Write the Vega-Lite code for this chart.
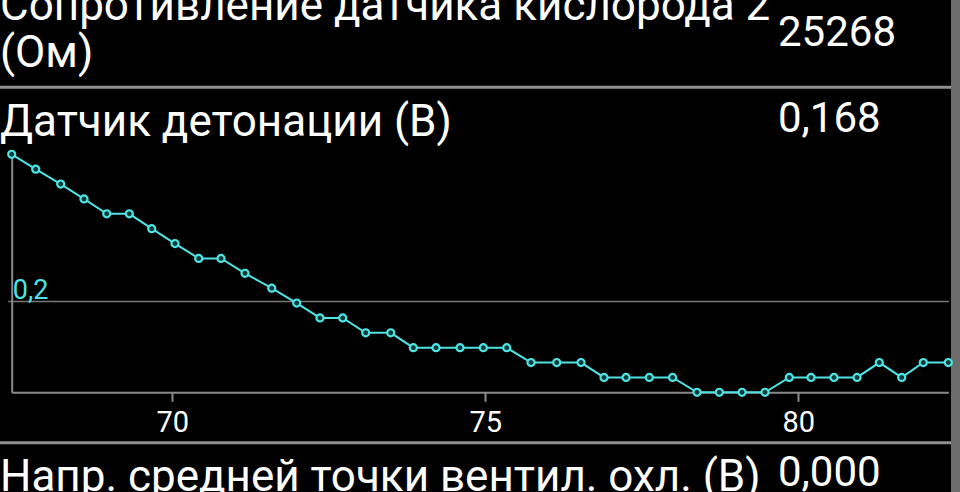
{
  "$schema": "https://vega.github.io/schema/vega-lite/v6.json",
  "width": 951,
  "height": 492,
  "autosize": "none",
  "padding": {"left": 0, "top": 0, "right": 9, "bottom": 0},
  "background": "#6c6c6c",
  "config": {"view": {"fill": "#000000", "stroke": null}},
  "datasets": {
    "rows": [
      {"item": 1, "label": "Сопротивление датчика кислорода 2\n(Ом)", "value": "25268"},
      {"item": 2, "label": "Датчик детонации (В)", "value": "0,168"},
      {"item": 3, "label": "Напр. средней точки вентил. охл. (В)", "value": "0,000"}
    ],
    "series": [
      {"t": 67.434, "v": 0.2768},
      {"t": 67.818, "v": 0.269},
      {"t": 68.217, "v": 0.2612},
      {"t": 68.589, "v": 0.2534},
      {"t": 68.952, "v": 0.2456},
      {"t": 69.313, "v": 0.2456},
      {"t": 69.671, "v": 0.2378},
      {"t": 70.043, "v": 0.23},
      {"t": 70.422, "v": 0.2222},
      {"t": 70.778, "v": 0.2222},
      {"t": 71.161, "v": 0.2144},
      {"t": 71.588, "v": 0.2066},
      {"t": 71.987, "v": 0.1988},
      {"t": 72.359, "v": 0.191},
      {"t": 72.722, "v": 0.191},
      {"t": 73.089, "v": 0.1832},
      {"t": 73.489, "v": 0.1832},
      {"t": 73.85, "v": 0.1754},
      {"t": 74.212, "v": 0.1754},
      {"t": 74.596, "v": 0.1754},
      {"t": 74.968, "v": 0.1754},
      {"t": 75.342, "v": 0.1754},
      {"t": 75.73, "v": 0.1676},
      {"t": 76.141, "v": 0.1676},
      {"t": 76.529, "v": 0.1676},
      {"t": 76.896, "v": 0.1598},
      {"t": 77.248, "v": 0.1598},
      {"t": 77.62, "v": 0.1598},
      {"t": 77.992, "v": 0.1598},
      {"t": 78.382, "v": 0.152},
      {"t": 78.738, "v": 0.152},
      {"t": 79.101, "v": 0.152},
      {"t": 79.468, "v": 0.152},
      {"t": 79.856, "v": 0.1598},
      {"t": 80.203, "v": 0.1598},
      {"t": 80.57, "v": 0.1598},
      {"t": 80.938, "v": 0.1598},
      {"t": 81.294, "v": 0.1676},
      {"t": 81.652, "v": 0.1598},
      {"t": 81.997, "v": 0.1676},
      {"t": 82.396, "v": 0.1676}
    ]
  },
  "resolve": {
    "scale": {"x": "independent", "y": "independent"},
    "axis": {"x": "independent", "y": "independent"}
  },
  "layer": [
    {
      "data": {"name": "rows"},
      "mark": {"type": "rule", "color": "#8f8f8f", "strokeWidth": 3},
      "encoding": {
        "y": {"field": "item", "type": "quantitative",
              "scale": {"domain": [1, 2, 3], "range": [87.3, 442.7, 700], "nice": false, "zero": false},
              "axis": null}
      }
    },
    {
      "data": {"name": "rows"},
      "mark": {"type": "text", "align": "left", "baseline": "top", "font": "Roboto", "fontSize": 44,
               "color": "#ffffff", "lineBreak": "\n", "lineHeight": 47},
      "encoding": {
        "text": {"field": "label"},
        "x": {"datum": "label", "type": "nominal",
              "scale": {"type": "point", "domain": ["label", "value"], "range": [0, 778], "padding": 0},
              "axis": null},
        "y": {"field": "item", "type": "quantitative",
              "scale": {"domain": [1, 2, 3], "range": [-15, 101, 455.6], "nice": false, "zero": false},
              "axis": null}
      }
    },
    {
      "data": {"name": "rows"},
      "mark": {"type": "text", "align": "left", "baseline": "top", "font": "Roboto", "fontSize": 42,
               "color": "#ffffff"},
      "encoding": {
        "text": {"field": "value"},
        "x": {"datum": "value", "type": "nominal",
              "scale": {"type": "point", "domain": ["label", "value"], "range": [0, 778], "padding": 0},
              "axis": null},
        "y": {"field": "item", "type": "quantitative",
              "scale": {"domain": [1, 2, 3], "range": [13.2, 98.7, 452.6], "nice": false, "zero": false},
              "axis": null}
      }
    },
    {
      "data": {"name": "series"},
      "encoding": {
        "x": {"field": "t", "type": "quantitative",
              "scale": {"domain": [67.434, 82.396], "range": [11.7, 948.3], "nice": false, "zero": false},
              "axis": {"values": [70, 75, 80], "offset": -99.7, "title": null, "grid": false,
                       "domainColor": "#8a8a8a", "domainWidth": 2, "tickColor": "#8a8a8a", "tickSize": 9,
                       "tickWidth": 2, "labelColor": "#ffffff", "labelFont": "Roboto", "labelFontSize": 29,
                       "labelPadding": 7, "labelFlush": false, "format": "d"}},
        "y": {"field": "v", "type": "quantitative",
              "scale": {"domain": [0.152, 0.2768], "range": [392.3, 154.3], "nice": false, "zero": false},
              "axis": {"values": [0.2], "offset": -11.7, "title": null, "grid": true,
                       "gridColor": "#777777", "gridWidth": 1.5, "domainColor": "#8a8a8a", "domainWidth": 2,
                       "tickColor": "#777777", "tickSize": 4, "tickWidth": 1.5,
                       "labelColor": "#50e3e3", "labelFont": "Roboto", "labelFontSize": 27,
                       "labelAlign": "left", "labelBaseline": "alphabetic", "labelPadding": -4.6,
                       "labelOffset": -2.7,
                       "labelExpr": "replace(format(datum.value, '.1f'), '.', ',')"}}
      },
      "layer": [
        {"mark": {"type": "line", "color": "#50e3e3", "strokeWidth": 2}},
        {"mark": {"type": "point", "filled": true, "fill": "#0e3a3a", "stroke": "#50e3e3",
                  "strokeWidth": 2.2, "size": 50, "opacity": 1}}
      ]
    }
  ]
}
